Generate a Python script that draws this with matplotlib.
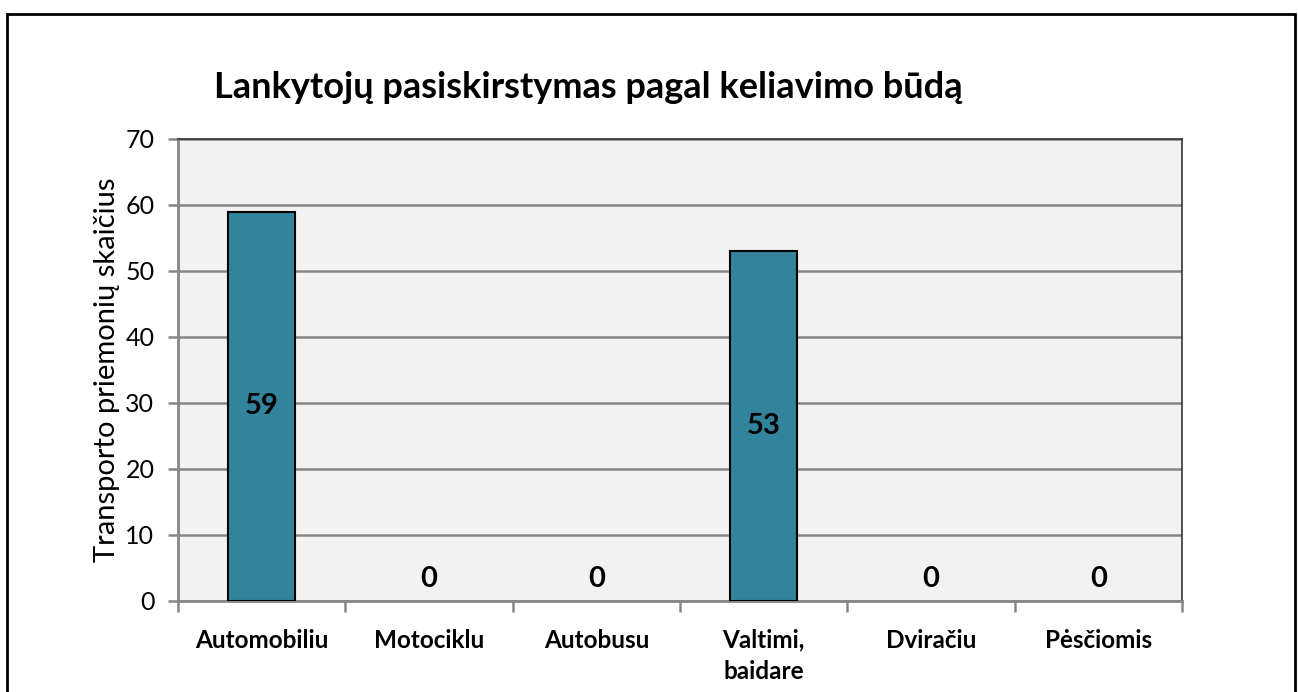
import numpy as np
import matplotlib.pyplot as plt
from matplotlib.patches import Rectangle

plt.rcParams['font.family'] = ['Lato', 'DejaVu Sans']

# duomenys
kategorijos = ["Automobiliu", "Motociklu", "Autobusu", "Valtimi,\nbaidare", "Dviračiu", "Pėsčiomis"]
reiksmes = [59, 0, 0, 53, 0, 0]
y_ticks = [0, 10, 20, 30, 40, 50, 60, 70]

fig = plt.figure(figsize=(12.98, 6.92), dpi=100)

# išorinis rėmelis
fig.patches.append(Rectangle((7 / 1298, -0.05), 1288 / 1298, 1.04 - 7 / 692,
                             transform=fig.transFigure, fill=False,
                             edgecolor='black', linewidth=2))

ax = fig.add_axes([178 / 1298, 91 / 692, 1004 / 1298, 462 / 692])
ax.set_facecolor('#f2f2f2')

x = np.arange(len(kategorijos))
krastai = ['black' if v > 0 else 'none' for v in reiksmes]
ax.bar(x, reiksmes, width=0.4, color='#31849b', edgecolor=krastai, linewidth=1.5, zorder=3)

ax.set_xlim(-0.5, len(kategorijos) - 0.5)
ax.set_ylim(0, 70)
ax.set_yticks(y_ticks)
ax.yaxis.grid(True, color='#868686', linewidth=1.8, zorder=0)
ax.set_axisbelow(True)

# x ašis: žymės tarp kategorijų, užrašai centre
ax.set_xticks(np.arange(-0.5, len(kategorijos), 1.0))
ax.set_xticklabels([])
ax.set_xticks(x, minor=True)
ax.set_xticklabels(kategorijos, minor=True, fontsize=17.5, fontweight='bold', linespacing=1.45,
                   verticalalignment='top')
ax.tick_params(axis='x', which='major', direction='out', length=8, width=1.8, color='#868686')
ax.tick_params(axis='x', which='minor', length=0, pad=20)
ax.tick_params(axis='y', direction='out', length=7, width=1.8, color='#868686',
               labelsize=18, pad=10)

for s in ['left', 'bottom']:
    ax.spines[s].set_color('#868686')
    ax.spines[s].set_linewidth(2)
for s in ['top', 'right']:
    ax.spines[s].set_color('#333333')
    ax.spines[s].set_linewidth(1.2)

# reikšmių užrašai
for xi, v in zip(x, reiksmes):
    if v > 0:
        ax.text(xi, v / 2, str(v), ha='center', va='center', fontsize=21, fontweight='bold', zorder=4)
    else:
        ax.text(xi, v + 3.4, str(v), ha='center', va='center', fontsize=21, fontweight='bold', zorder=4)

ax.set_ylabel("Transporto priemonių skaičius", fontsize=21, labelpad=4)

fig.text(588 / 1298, 1 - 88 / 692, "Lankytojų pasiskirstymas pagal keliavimo būdą",
         ha='center', va='center', fontsize=26, fontweight='bold')

fig.savefig("out.png", dpi=100)
